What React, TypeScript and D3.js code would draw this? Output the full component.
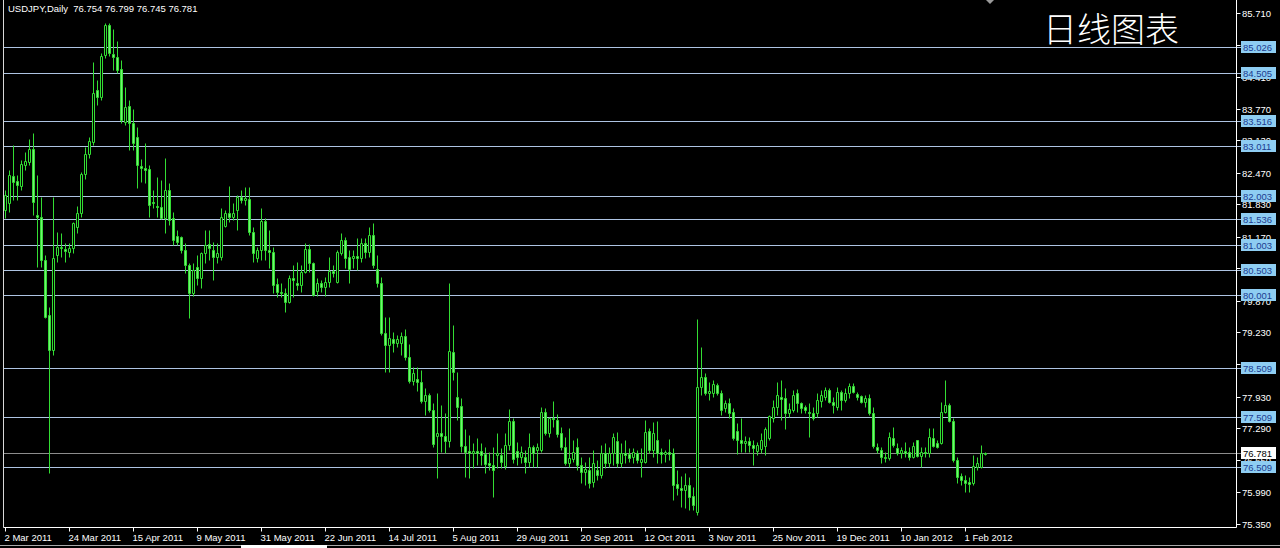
import React from "react";
import * as d3 from "d3";

// ---- Data (USDJPY daily) ----
const open = [
  81.72, 81.86, 82.41, 82.31, 82.20, 82.63, 82.69, 82.95, 81.62, 81.57,
  80.70, 79.59, 78.88, 80.80, 80.97, 80.93, 80.86, 80.95, 81.37, 81.66,
  82.45, 82.85, 83.10, 84.15, 84.01, 84.86, 85.47, 84.88, 84.82, 84.58,
  83.50, 83.83, 83.48, 83.20, 82.61, 82.57, 82.55, 81.88, 81.80, 81.78,
  81.55, 82.12, 81.55, 81.19, 81.17, 80.90, 80.60, 80.03, 80.56, 80.34,
  80.84, 81.03, 80.91, 80.76, 80.76, 81.39, 81.66, 81.57, 81.72, 81.98,
  81.92, 81.94, 81.27, 80.74, 80.91, 81.49, 80.91, 80.86, 80.21, 80.05,
  80.03, 79.85, 80.34, 80.23, 80.19, 80.46, 80.93, 80.64, 80.07, 80.23,
  80.15, 80.25, 80.48, 80.25, 80.84, 81.11, 80.76, 80.74, 80.78, 80.74,
  81.05, 80.86, 81.21, 80.52, 80.23, 79.22, 78.98, 79.10, 79.02, 79.02,
  79.16, 78.73, 78.25, 78.29, 78.23, 77.84, 77.96, 77.66, 77.13, 77.19,
  77.13, 77.03, 78.83, 77.92, 77.74, 76.93, 76.82, 76.78, 76.82, 76.82,
  76.76, 76.58, 76.54, 76.74, 76.74, 76.52, 76.95, 77.43, 76.82, 76.70,
  76.70, 76.60, 76.91, 76.85, 76.85, 77.62, 77.19, 77.49, 77.45, 77.19,
  76.91, 76.58, 76.66, 76.91, 76.54, 76.40, 76.44, 76.19, 76.44, 76.34,
  76.78, 76.58, 76.78, 77.03, 76.58, 76.78, 76.76, 76.70, 76.78, 76.60,
  76.60, 77.23, 76.85, 77.05, 76.80, 76.76, 76.80, 76.78, 76.16, 76.07,
  76.03, 76.14, 75.91, 75.59, 78.12, 78.33, 78.00, 78.00, 78.16, 78.00,
  77.70, 77.80, 77.62, 77.23, 77.05, 76.99, 77.03, 76.95, 76.82, 76.87,
  76.93, 77.09, 77.49, 77.72, 77.92, 77.90, 77.60, 77.66, 78.00, 77.80,
  77.72, 77.62, 77.60, 77.60, 77.84, 77.92, 78.06, 77.82, 77.72, 78.02,
  77.86, 78.00, 78.14, 77.98, 77.94, 77.82, 77.90, 77.60, 76.91, 76.85,
  76.70, 76.68, 77.09, 76.89, 76.78, 76.82, 76.80, 76.70, 77.05, 76.72,
  76.80, 76.78, 77.09, 76.99, 76.99, 77.62, 77.76, 77.43, 76.64, 76.32,
  76.24, 76.20, 76.18, 76.50, 76.50, 76.754,
];
const high = [
  82.12, 82.53, 83.04, 82.43, 82.73, 82.89, 83.16, 83.28, 82.43, 81.98,
  80.80, 79.75, 81.98, 81.27, 81.25, 81.05, 81.05, 81.47, 81.80, 82.49,
  83.00, 83.20, 84.72, 84.36, 84.90, 85.51, 85.51, 85.39, 85.15, 84.76,
  84.21, 83.95, 83.77, 83.40, 82.75, 83.08, 82.63, 82.12, 82.39, 82.33,
  82.77, 82.27, 81.68, 81.31, 81.19, 81.05, 80.64, 80.64, 80.80, 80.86,
  81.31, 81.31, 81.07, 81.05, 81.76, 81.72, 82.20, 81.86, 82.02, 82.12,
  82.18, 82.18, 81.37, 80.97, 81.76, 81.55, 81.31, 80.97, 80.34, 80.23,
  80.13, 80.40, 80.60, 80.66, 80.60, 81.05, 81.03, 80.66, 80.34, 80.30,
  80.36, 80.76, 80.60, 80.91, 81.25, 81.17, 80.91, 80.91, 81.15, 81.15,
  81.15, 81.37, 81.45, 80.80, 80.36, 79.55, 79.55, 79.24, 79.18, 79.24,
  79.30, 78.99, 78.53, 78.53, 78.47, 78.10, 78.00, 77.80, 78.00, 77.76,
  77.60, 80.23, 79.38, 78.43, 77.90, 77.27, 77.15, 76.99, 77.09, 76.99,
  76.91, 76.80, 76.91, 77.19, 76.89, 77.19, 77.68, 77.49, 77.01, 76.93,
  76.85, 77.19, 76.95, 76.99, 77.72, 77.70, 77.52, 77.84, 77.58, 77.31,
  77.11, 77.29, 77.05, 77.09, 76.70, 76.60, 76.70, 76.85, 76.64, 76.95,
  76.99, 76.91, 77.19, 77.21, 76.99, 77.05, 76.89, 76.89, 76.85, 76.89,
  77.45, 77.29, 77.41, 77.43, 76.89, 76.85, 77.07, 76.89, 76.44, 76.32,
  76.38, 76.30, 76.09, 79.50, 78.94, 78.41, 78.23, 78.27, 78.20, 78.06,
  77.86, 77.90, 77.70, 77.39, 77.49, 77.13, 77.11, 77.05, 77.01, 77.19,
  77.31, 77.56, 77.86, 78.23, 78.27, 78.10, 77.80, 78.06, 78.08, 77.82,
  77.76, 77.80, 77.72, 78.00, 78.06, 78.12, 78.10, 77.92, 78.12, 78.06,
  78.10, 78.21, 78.21, 78.02, 77.96, 77.96, 77.98, 77.72, 76.99, 76.91,
  76.80, 77.21, 77.31, 76.99, 76.91, 77.01, 76.91, 77.01, 77.05, 76.91,
  76.91, 77.29, 77.29, 77.05, 77.82, 78.27, 77.80, 77.49, 76.70, 76.38,
  76.34, 76.30, 76.74, 76.70, 76.95, 76.799,
];
const low = [
  81.56, 81.68, 81.92, 81.92, 82.12, 82.53, 82.63, 81.62, 80.56, 80.56,
  79.52, 76.38, 78.77, 80.66, 80.76, 80.66, 80.76, 80.84, 81.25, 81.57,
  82.35, 82.77, 83.04, 83.85, 83.95, 84.80, 84.84, 84.56, 84.50, 83.48,
  83.44, 82.94, 82.94, 82.16, 82.29, 82.27, 81.57, 81.76, 81.57, 81.54,
  81.25, 81.41, 81.01, 81.01, 80.84, 80.44, 79.52, 79.97, 80.19, 80.13,
  80.64, 80.70, 80.30, 80.64, 80.70, 81.37, 81.47, 81.51, 81.31, 81.86,
  81.82, 81.21, 80.66, 80.66, 80.70, 80.70, 80.54, 80.03, 79.95, 79.95,
  79.65, 79.83, 79.95, 80.09, 80.05, 80.44, 80.46, 79.97, 79.97, 80.05,
  79.97, 80.15, 80.36, 80.23, 80.80, 80.54, 80.23, 80.54, 80.50, 80.66,
  80.74, 80.76, 80.54, 80.15, 79.18, 78.43, 78.43, 78.83, 78.94, 78.77,
  78.67, 78.21, 78.16, 78.04, 77.80, 77.56, 77.62, 76.91, 76.28, 76.80,
  76.78, 76.91, 78.27, 77.45, 76.80, 76.30, 76.28, 76.48, 76.54, 76.54,
  76.38, 76.44, 75.89, 76.48, 76.48, 76.46, 76.85, 76.58, 76.54, 76.58,
  76.38, 76.50, 76.50, 76.50, 76.80, 77.15, 77.11, 77.31, 77.11, 76.85,
  76.54, 76.50, 76.60, 76.44, 76.17, 76.14, 76.07, 76.09, 76.24, 76.28,
  76.48, 76.50, 76.54, 76.50, 76.50, 76.58, 76.60, 76.58, 76.58, 76.30,
  76.58, 76.78, 76.70, 76.58, 76.58, 76.60, 76.64, 75.83, 75.93, 75.69,
  75.67, 75.63, 75.63, 75.53, 77.96, 77.96, 77.86, 77.92, 77.96, 77.56,
  77.62, 77.49, 77.05, 76.76, 76.80, 76.80, 76.80, 76.54, 76.74, 76.78,
  76.74, 77.05, 77.41, 77.56, 77.45, 77.27, 77.51, 77.62, 77.62, 77.60,
  77.60, 77.11, 77.45, 77.51, 77.72, 77.86, 77.80, 77.60, 77.66, 77.66,
  77.82, 77.90, 78.00, 77.86, 77.80, 77.72, 77.56, 76.89, 76.78, 76.58,
  76.60, 76.64, 76.91, 76.74, 76.68, 76.70, 76.64, 76.68, 76.70, 76.50,
  76.70, 76.70, 76.91, 76.89, 76.97, 77.60, 77.41, 76.60, 76.17, 76.14,
  75.99, 75.99, 76.14, 76.44, 76.48, 76.745,
];
const close = [
  82.02, 82.43, 82.29, 82.22, 82.65, 82.71, 82.95, 81.88, 81.57, 80.70,
  79.55, 78.88, 80.74, 80.97, 80.95, 80.89, 80.95, 81.45, 81.66, 82.45,
  82.85, 83.12, 84.09, 84.01, 84.84, 85.47, 84.90, 84.82, 84.56, 83.54,
  83.81, 83.48, 83.08, 82.63, 82.57, 82.53, 81.82, 81.86, 81.78, 81.55,
  82.12, 81.51, 81.11, 81.07, 80.90, 80.60, 80.03, 80.50, 80.34, 80.84,
  81.01, 80.95, 80.76, 80.84, 81.57, 81.66, 81.57, 81.66, 81.98, 81.92,
  81.96, 81.27, 80.84, 80.91, 81.49, 80.91, 80.86, 80.19, 80.05, 80.03,
  79.85, 80.34, 80.30, 80.19, 80.46, 80.93, 80.64, 79.99, 80.23, 80.15,
  80.25, 80.48, 80.44, 80.86, 81.11, 80.74, 80.52, 80.78, 80.74, 81.05,
  80.86, 81.21, 80.60, 80.23, 79.22, 78.98, 79.12, 79.02, 79.10, 79.16,
  78.73, 78.25, 78.41, 78.23, 77.84, 77.96, 77.66, 76.97, 77.19, 77.13,
  77.03, 78.85, 78.43, 77.72, 76.93, 76.80, 76.78, 76.82, 76.78, 76.74,
  76.56, 76.54, 76.44, 76.78, 76.60, 76.95, 77.43, 76.66, 76.70, 76.80,
  76.60, 76.91, 76.78, 76.91, 77.62, 77.19, 77.49, 77.47, 77.17, 76.91,
  76.58, 76.68, 76.80, 76.54, 76.40, 76.46, 76.17, 76.58, 76.34, 76.78,
  76.58, 76.78, 77.11, 76.58, 76.78, 76.74, 76.68, 76.80, 76.64, 76.66,
  77.21, 76.85, 77.19, 76.78, 76.76, 76.80, 76.76, 76.14, 76.07, 76.03,
  76.14, 75.89, 75.73, 78.12, 78.33, 78.00, 78.04, 78.18, 78.00, 77.66,
  77.80, 77.60, 77.09, 77.05, 76.99, 77.03, 76.95, 76.89, 76.95, 77.05,
  77.27, 77.54, 77.72, 77.96, 77.88, 77.60, 77.68, 77.96, 77.80, 77.70,
  77.66, 77.60, 77.49, 77.86, 77.96, 78.06, 77.82, 77.76, 78.02, 77.86,
  78.00, 78.14, 78.02, 77.92, 77.82, 77.90, 77.60, 76.93, 76.85, 76.70,
  76.68, 77.11, 76.95, 76.78, 76.85, 76.78, 76.70, 76.93, 76.72, 76.80,
  76.78, 77.11, 76.93, 76.91, 77.62, 77.76, 77.43, 76.64, 76.30, 76.24,
  76.18, 76.16, 76.52, 76.58, 76.78, 76.781,
];

const priceTicks = [
  85.71, 85.07, 84.41, 83.77, 83.13, 82.47, 81.83, 81.17, 80.53,
  79.87, 79.23, 78.59, 77.93, 77.29, 76.65, 75.99, 75.35,
];
const levels = [
  85.026, 84.505, 83.516, 83.011, 82.003, 81.536, 81.003, 80.503,
  80.001, 78.509, 77.509, 76.509,
];
const dateLabels = [
  "2 Mar 2011", "24 Mar 2011", "15 Apr 2011", "9 May 2011", "31 May 2011",
  "22 Jun 2011", "14 Jul 2011", "5 Aug 2011", "29 Aug 2011", "20 Sep 2011",
  "12 Oct 2011", "3 Nov 2011", "25 Nov 2011", "19 Dec 2011", "10 Jan 2012",
  "1 Feb 2012",
];
const dateLabelIndex = [0, 16, 32, 48, 64, 80, 96, 112, 128, 144, 160, 176, 192, 208, 224, 240];
const symbol = "USDJPY,Daily";
const lastPrice = 76.781;
const titleCN = "日线图表";

const W = 1280;
const H = 548;
const FONT = "'Liberation Sans', Arial, sans-serif";
const GREEN = "#33dd33";
const BEAR_FILL = "#74f274";

export default function App() {
  const x = d3.scaleLinear().domain([0, 308]).range([5, 1237]);
  const y = d3.scaleLinear().domain([75.35, 85.71]).range([523.6, 13.3]);
  const py = (v: number) => Math.round(y(v)) + 0.5;
  const px = (i: number) => Math.round(x(i)) + 0.5;

  const plotLeft = 3.5;
  const plotRight = 1236.5;
  const plotBottom = 527.5;

  const fmt = d3.format(".3f");

  return (
    <svg
      width={W}
      height={H}
      style={{ position: "absolute", left: 0, top: 0, background: "#000", display: "block" }}
    >
      <rect x={0} y={0} width={W} height={H} fill="#000" />

      {/* level lines */}
      {levels.map((lv) => (
        <line key={"lv" + lv} x1={plotLeft} x2={1241} y1={py(lv)} y2={py(lv)} stroke="#aec4e2" strokeWidth={1} />
      ))}
      <line x1={plotLeft} x2={1241} y1={py(lastPrice)} y2={py(lastPrice)} stroke="#8c8c8c" strokeWidth={1} />

      {/* candles */}
      {close.map((c, i) => {
        const cx = px(i);
        const o = open[i];
        const bull = c >= o;
        const top = py(Math.max(o, c));
        const bot = py(Math.min(o, c));
        return (
          <g key={"c" + i}>
            <line x1={cx} x2={cx} y1={py(high[i])} y2={py(low[i])} stroke={GREEN} strokeWidth={1} />
            <path
              d={`M${cx - 1},${top}H${cx + 1}V${bot}H${cx - 1}Z`}
              fill={bull ? "#000" : BEAR_FILL}
              stroke={GREEN}
              strokeWidth={1}
            />
          </g>
        );
      })}

      {/* frame */}
      <line x1={plotLeft} x2={plotLeft} y1={0} y2={plotBottom} stroke="#d8d8d8" />
      <line x1={plotLeft} x2={plotRight} y1={plotBottom} y2={plotBottom} stroke="#ffffff" />
      <line x1={plotRight} x2={plotRight} y1={0} y2={plotBottom} stroke="#ffffff" />

      {/* price axis */}
      {priceTicks.map((t) => (
        <g key={"t" + t}>
          <line x1={plotRight} x2={plotRight + 4} y1={py(t)} y2={py(t)} stroke="#fff" />
          <text x={1242} y={py(t)} dy="0.35em" fill="#fff" fontSize={9.5} fontFamily={FONT}>
            {fmt(t)}
          </text>
        </g>
      ))}
      {levels.map((lv) => (
        <g key={"lb" + lv}>
          <rect x={1241} y={py(lv) - 6.5} width={35} height={12} fill="#8ecdf2" />
          <text x={1243} y={py(lv)} dy="0.35em" fill="#1c3c90" fontSize={9.5} fontFamily={FONT}>
            {fmt(lv)}
          </text>
        </g>
      ))}
      <rect x={1241} y={py(lastPrice) - 6.5} width={35} height={12} fill="#ffffff" />
      <text x={1243} y={py(lastPrice)} dy="0.35em" fill="#000" fontSize={9.5} fontFamily={FONT}>
        {fmt(lastPrice)}
      </text>

      {/* time axis */}
      {dateLabels.map((d, k) => {
        const tx = px(dateLabelIndex[k]);
        return (
          <g key={"d" + d}>
            <line x1={tx} x2={tx} y1={plotBottom} y2={plotBottom + 4} stroke="#fff" />
            <text x={tx - 1} y={541} fill="#fff" fontSize={9.5} fontFamily={FONT}>
              {d}
            </text>
          </g>
        );
      })}

      {/* header */}
      <text x={8} y={12} fill="#fff" fontSize={9.5} fontFamily={FONT} style={{ whiteSpace: "pre" }}>
        {`${symbol}  ${fmt(open[open.length - 1])} ${fmt(high[high.length - 1])} ${fmt(low[low.length - 1])} ${fmt(lastPrice)}`}
      </text>
      <text x={1043} y={42} fill="#fff" fontSize={34} fontFamily="'Noto Sans CJK SC', sans-serif" fontWeight={300}>
        {titleCN}
      </text>

      {/* chart shift marker */}
      <path d="M986,0 L994,0 L990,4 Z" fill="#9a9a9a" />

      {/* window bottom edge */}
      <line x1={0} x2={W} y1={545.5} y2={545.5} stroke="#a8a8a8" />
      <rect x={241} y={545} width={86} height={3} fill="#ffffff" />
    </svg>
  );
}
